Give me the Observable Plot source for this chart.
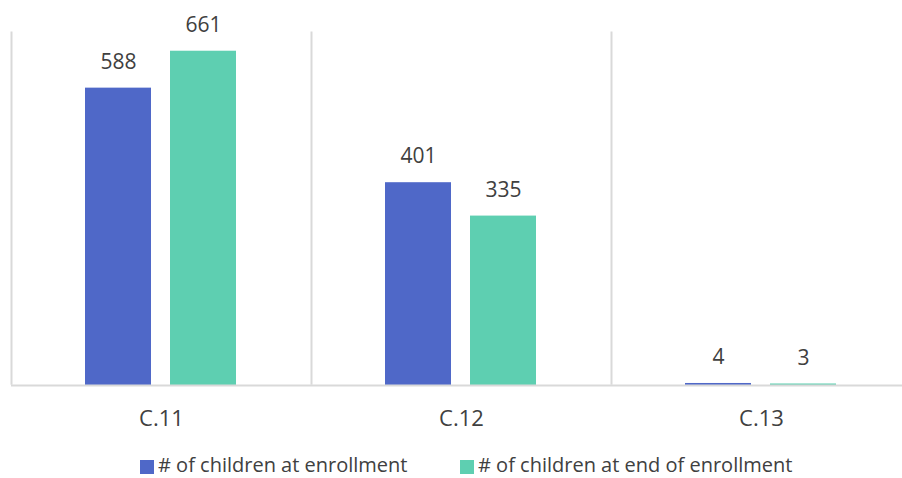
<!DOCTYPE html>
<html>
<head>
<meta charset="utf-8">
<script src="https://cdn.jsdelivr.net/npm/d3@7"></script>
<script src="https://cdn.jsdelivr.net/npm/@observablehq/plot@0.6"></script>
<style>
  body { margin: 0; background: #fff; font-family: "Open Sans", sans-serif; color: #404040; }
  #chart svg { display: block; }
  #legend { position: relative; height: 38px; font-size: 20px; line-height: 16px; }
  .item { position: absolute; top: 17px; display: flex; align-items: center; white-space: nowrap; }
  .swatch { width: 14px; height: 14px; margin-right: 4px; position: relative; top: 2px; }
</style>
</head>
<body>
<div id="chart"></div>
<div id="legend"></div>
<script>
// Children counts per site
const categories = ["C.11", "C.12", "C.13"];
const seriesNames = ["# of children at enrollment", "# of children at end of enrollment"];
const atEnrollment = [588, 401, 4];
const atEndOfEnrollment = [661, 335, 3];
const colors = ["#4F68C8", "#5ECFB1"];

const rows = categories.flatMap((c, i) => [
  {category: c, series: seriesNames[0], value: atEnrollment[i]},
  {category: c, series: seriesNames[1], value: atEndOfEnrollment[i]}
]);

const svgW = 902, svgH = 440, mTop = 31, mBottom = svgH - 385;
const mLeft = 10, mRight = -9;
const facetW = (svgW - mLeft - mRight) / categories.length;
const plotH = svgH - mTop - mBottom;

const chart = Plot.plot({
  width: svgW,
  height: svgH,
  marginTop: mTop,
  marginBottom: mBottom,
  marginLeft: mLeft,
  marginRight: mRight,
  style: {font: "21px 'Open Sans', sans-serif", color: "#404040", background: "#fff"},
  fx: {domain: categories, padding: 0, label: null},
  x: {domain: seriesNames, paddingInner: 0.221, paddingOuter: 0.857, align: 0.5, axis: null},
  y: {domain: [0, 700], axis: null},
  color: {domain: seriesNames, range: colors},
  marks: [
    // left edge of each category panel
    Plot.frame({stroke: "#d9d9d9", strokeWidth: 2,
      strokeDasharray: `0 ${2 * facetW + plotH} ${plotH} 3000`}),
    Plot.barY(rows, {fx: "category", x: "series", y: "value", fill: "series"}),
    Plot.ruleY([0], {stroke: "#d9d9d9", strokeWidth: 2}),
    Plot.text(rows, {fx: "category", x: "series", y: "value", text: d => String(d.value),
      dy: -26, fill: "#404040", fontSize: 21}),
    Plot.axisFx({anchor: "bottom", tickSize: 0, tickPadding: 25, label: null, fontSize: 22})
  ]
});
document.getElementById("chart").appendChild(chart);

// legend
const legend = document.getElementById("legend");
const lefts = [140, 460];
seriesNames.forEach((name, i) => {
  const item = document.createElement("div");
  item.className = "item";
  item.style.left = lefts[i] + "px";
  const sw = document.createElement("span");
  sw.className = "swatch";
  sw.style.background = colors[i];
  const label = document.createElement("span");
  label.textContent = name;
  item.append(sw, label);
  legend.appendChild(item);
});
</script>
</body>
</html>
